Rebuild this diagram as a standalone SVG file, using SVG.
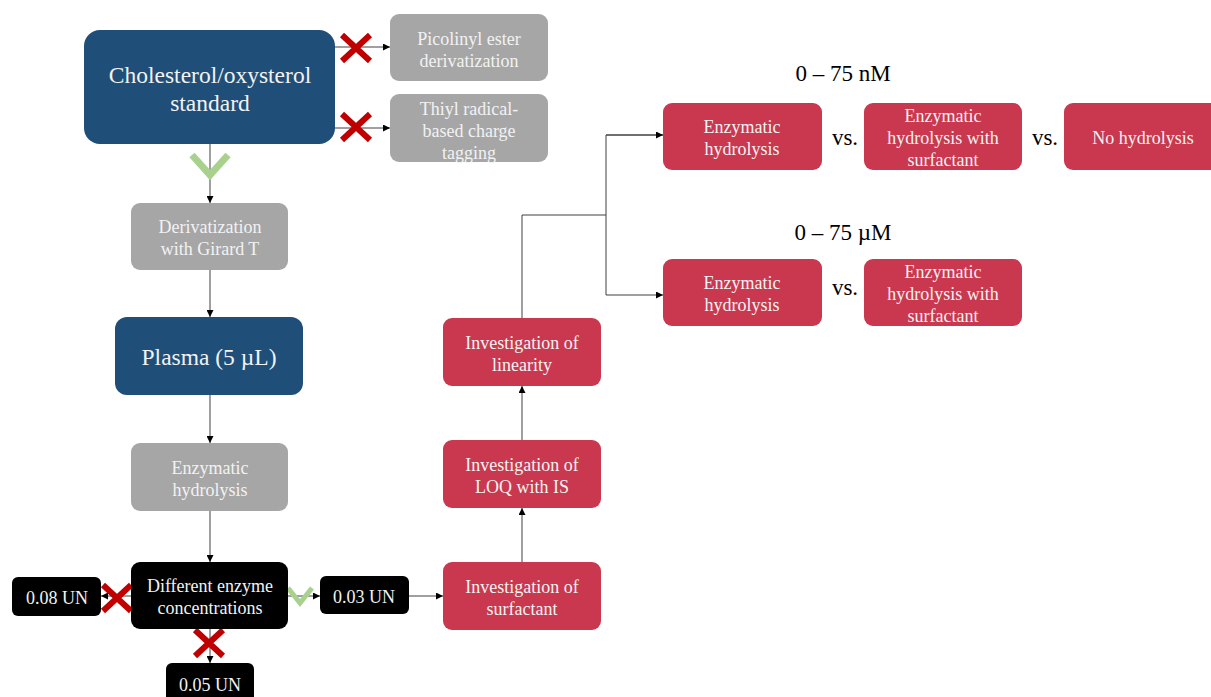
<svg xmlns="http://www.w3.org/2000/svg" width="1211" height="697" viewBox="0 0 1211 697">
<defs>
<marker id="ah" viewBox="0 0 10 10" refX="10" refY="5" markerWidth="7" markerHeight="7" markerUnits="userSpaceOnUse" orient="auto"><path d="M0,0 L10,5 L0,10 z" fill="#000"/></marker>
<g id="xmark"><path d="M-14,-13 L14,13 M14,-13 L-14,13" stroke="#c00000" stroke-width="6"/></g>
<g id="check"><path d="M-18,-10 L0,10 L18,-10" fill="none" stroke="#a9d18e" stroke-width="7"/></g>
<g id="checks"><path d="M-12,-8 L0,7 L12,-8" fill="none" stroke="#a9d18e" stroke-width="5"/></g>
</defs>
<style>
.blue{fill:#1f4e79}
.gray{fill:#a6a6a6}
.red{fill:#c9384f}
.blk{fill:#000}
text{font-family:"Liberation Serif","Times New Roman",serif;text-anchor:middle}
.t{font-size:18px;fill:#f2f2f2}
.tb{font-size:23.5px;fill:#f2f2f2}
.tk{font-size:23px;fill:#000}
.ln{stroke:#404040;stroke-width:1;fill:none}
</style>
<rect width="1211" height="697" fill="#fff"/>
<g id="connectors">
<path class="ln" d="M335,47 H390" marker-end="url(#ah)"/>
<path class="ln" d="M335,128 H390" marker-end="url(#ah)"/>
<path class="ln" d="M210,144 V203" marker-end="url(#ah)"/>
<path class="ln" d="M210,270 V317" marker-end="url(#ah)"/>
<path class="ln" d="M210,395 V443" marker-end="url(#ah)"/>
<path class="ln" d="M210,511 V562" marker-end="url(#ah)"/>
<path class="ln" d="M131,596 H101" marker-end="url(#ah)"/>
<path class="ln" d="M210,629 V663" marker-end="url(#ah)"/>
<path class="ln" d="M288,596 H320" marker-end="url(#ah)"/>
<path class="ln" d="M409,596 H443" marker-end="url(#ah)"/>
<path class="ln" d="M522,562 V508" marker-end="url(#ah)"/>
<path class="ln" d="M522,440 V386" marker-end="url(#ah)"/>
<path class="ln" d="M522,318 V215 H606"/>
<path class="ln" d="M663,135 H606 V295 H663" marker-end="url(#ah)"/>
<path class="ln" d="M606,135 H663" marker-end="url(#ah)"/>
<use href="#xmark" x="356" y="48"/>
<use href="#xmark" x="356" y="127"/>
<use href="#check" x="210" y="165"/>
<use href="#xmark" x="117" y="598"/>
<use href="#xmark" x="209" y="643"/>
<use href="#checks" x="300" y="596"/>
</g>
<g id="cholesterol"><rect class="blue" x="84" y="30" width="251" height="114" rx="16"/><text class="tb" x="210" y="83">Cholesterol/oxysterol</text><text class="tb" x="210" y="111">standard</text></g>
<g id="picolinyl"><rect class="gray" x="390" y="14" width="158" height="67" rx="9"/><text class="t" x="469" y="45">Picolinyl ester</text><text class="t" x="469" y="67">derivatization</text></g>
<g id="thiyl"><rect class="gray" x="390" y="94" width="158" height="68" rx="9"/><text class="t" x="469" y="115">Thiyl radical-</text><text class="t" x="469" y="137">based charge</text><text class="t" x="469" y="159">tagging</text></g>
<g id="girard"><rect class="gray" x="131" y="203" width="157" height="67" rx="9"/><text class="t" x="210" y="233">Derivatization</text><text class="t" x="210" y="255">with Girard T</text></g>
<g id="plasma"><rect class="blue" x="115" y="317" width="188" height="78" rx="12"/><text class="tb" x="209" y="365">Plasma (5 µL)</text></g>
<g id="enz1"><rect class="gray" x="131" y="443" width="157" height="68" rx="9"/><text class="t" x="210" y="474">Enzymatic</text><text class="t" x="210" y="496">hydrolysis</text></g>
<g id="diff"><rect class="blk" x="131" y="562" width="157" height="67" rx="9"/><text class="t" x="210" y="592">Different enzyme</text><text class="t" x="210" y="614">concentrations</text></g>
<g id="un08"><rect class="blk" x="12" y="577" width="89" height="39" rx="6"/><text class="t" x="57" y="604">0.08 UN</text></g>
<g id="un03"><rect class="blk" x="320" y="576" width="89" height="38" rx="6"/><text class="t" x="364" y="603">0.03 UN</text></g>
<g id="un05"><rect class="blk" x="166" y="663" width="88" height="40" rx="6"/><text class="t" x="210" y="691">0.05 UN</text></g>
<g id="surf"><rect class="red" x="443" y="562" width="158" height="68" rx="9"/><text class="t" x="522" y="593">Investigation of</text><text class="t" x="522" y="615">surfactant</text></g>
<g id="loq"><rect class="red" x="443" y="440" width="158" height="68" rx="9"/><text class="t" x="522" y="471">Investigation of</text><text class="t" x="522" y="493">LOQ with IS</text></g>
<g id="lin"><rect class="red" x="443" y="318" width="158" height="68" rx="9"/><text class="t" x="522" y="349">Investigation of</text><text class="t" x="522" y="371">linearity</text></g>
<g id="nm"><text class="tk" x="843" y="81">0 – 75 nM</text></g>
<g id="um"><text class="tk" x="843" y="240">0 – 75 µM</text></g>
<g id="e1"><rect class="red" x="663" y="103" width="159" height="67" rx="9"/><text class="t" x="742" y="133">Enzymatic</text><text class="t" x="742" y="155">hydrolysis</text></g>
<text class="tk" x="845" y="145">vs.</text>
<g id="e2"><rect class="red" x="864" y="103" width="158" height="67" rx="9"/><text class="t" x="943" y="122">Enzymatic</text><text class="t" x="943" y="144">hydrolysis with</text><text class="t" x="943" y="166">surfactant</text></g>
<text class="tk" x="1045" y="145">vs.</text>
<g id="e3"><rect class="red" x="1064" y="103" width="160" height="67" rx="9"/><text class="t" x="1143" y="144">No hydrolysis</text></g>
<g id="e4"><rect class="red" x="663" y="259" width="159" height="67" rx="9"/><text class="t" x="742" y="289">Enzymatic</text><text class="t" x="742" y="311">hydrolysis</text></g>
<text class="tk" x="845" y="295">vs.</text>
<g id="e5"><rect class="red" x="864" y="259" width="158" height="67" rx="9"/><text class="t" x="943" y="278">Enzymatic</text><text class="t" x="943" y="300">hydrolysis with</text><text class="t" x="943" y="322">surfactant</text></g>
</svg>
